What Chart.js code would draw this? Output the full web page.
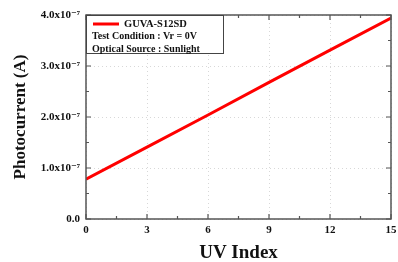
<!DOCTYPE html>
<html>
<head>
<meta charset="utf-8">
<script src="https://cdn.jsdelivr.net/npm/chart.js@4"></script>
<style>
  body { margin: 0; background: #fff; }
  #wrap { width: 398px; height: 262px; }
</style>
</head>
<body>
<div id="wrap"><canvas id="chartUV"></canvas></div>
<script>
const uvIndex = [0, 3, 6, 9, 12, 15];
const photocurrent = [0.78e-7, 1.41e-7, 2.04e-7, 2.68e-7, 3.31e-7, 3.94e-7];
const yTickLabels = ['0.0', '1.0x10\u207B\u2077', '2.0x10\u207B\u2077', '3.0x10\u207B\u2077', '4.0x10\u207B\u2077'];
const legendLines = ['Test Condition : Vr = 0V', 'Optical Source : Sunlight'];

const serif = '"Liberation Serif", "DejaVu Serif", serif';

// ticks pointing into the plot, on all four sides, plus the legend box
const framePlugin = {
    id: 'frame',
    afterDatasetsDraw(chart) {
        const ctx = chart.ctx;
        const a = chart.chartArea;
        const xs = chart.scales.x;
        const ys = chart.scales.y;
        ctx.save();
        ctx.strokeStyle = '#555';
        ctx.lineWidth = 1.5;
        ctx.strokeRect(a.left, a.top, a.right - a.left, a.bottom - a.top);
        ctx.lineWidth = 1.2;
        for (let v = 0; v <= 15; v += 1.5) {
            const x = xs.getPixelForValue(v);
            const len = (v % 3 === 0) ? 5 : 3;
            ctx.beginPath();
            ctx.moveTo(x, a.bottom); ctx.lineTo(x, a.bottom - len);
            ctx.moveTo(x, a.top); ctx.lineTo(x, a.top + len);
            ctx.stroke();
        }
        for (let k = 0; k <= 8; k++) {
            const y = ys.getPixelForValue(k * 0.5e-7);
            const len = (k % 2 === 0) ? 5 : 3;
            ctx.beginPath();
            ctx.moveTo(a.left, y); ctx.lineTo(a.left + len, y);
            ctx.moveTo(a.right, y); ctx.lineTo(a.right - len, y);
            ctx.stroke();
        }

        // legend
        const bx = a.left, by = a.top, bw = 137, bh = 38;
        ctx.fillStyle = '#fff';
        ctx.fillRect(bx, by, bw, bh);
        ctx.strokeStyle = '#444';
        ctx.lineWidth = 1;
        ctx.strokeRect(bx + 0.5, by + 0.5, bw, bh);
        const ds = chart.data.datasets[0];
        ctx.strokeStyle = ds.borderColor;
        ctx.lineWidth = 3;
        ctx.beginPath();
        ctx.moveTo(bx + 7, by + 9); ctx.lineTo(bx + 33, by + 9);
        ctx.stroke();
        ctx.fillStyle = '#111';
        ctx.textBaseline = 'middle';
        ctx.font = 'bold 10.5px ' + serif;
        ctx.fillText(ds.label, bx + 38, by + 9);
        ctx.font = 'bold 10px ' + serif;
        legendLines.forEach((t, i) => ctx.fillText(t, bx + 6, by + 21.5 + i * 12.5));
        ctx.restore();
    }
};

const ctx = document.getElementById('chartUV').getContext('2d');
const chart = new Chart(ctx, {
    type: 'line',
    data: {
        labels: uvIndex,
        datasets: [
            {
                label: 'GUVA-S12SD',
                data: uvIndex.map((x, i) => ({ x: x, y: photocurrent[i] })),
                borderColor: '#ff0000',
                backgroundColor: 'transparent',
                borderWidth: 3,
                pointRadius: 0,
                tension: 0
            }
        ]
    },
    options: {
        responsive: true,
        maintainAspectRatio: false,
        animation: false,
        layout: { padding: { left: 6, top: 15, right: 7, bottom: 0 } },
        plugins: {
            legend: { display: false },
            tooltip: { enabled: false }
        },
        scales: {
            x: {
                type: 'linear',
                min: 0,
                max: 15,
                afterFit: s => { s.height = 43; s.paddingRight = 0; s.paddingLeft = 0; },
                ticks: {
                    stepSize: 3,
                    color: '#111',
                    padding: 5,
                    font: { family: serif, weight: 'bold', size: 11 }
                },
                grid: {
                    color: '#d8d8d8',
                    drawTicks: false
                },
                border: { display: false, dash: [1, 3] },
                title: {
                    display: true,
                    text: 'UV Index',
                    color: '#111',
                    padding: { top: 0, bottom: -2 },
                    font: { family: serif, weight: 'bold', size: 19 }
                }
            },
            y: {
                min: 0,
                max: 4e-7,
                afterFit: s => { s.width = 80; },
                ticks: {
                    stepSize: 1e-7,
                    color: '#111',
                    padding: 6,
                    font: { family: serif, weight: 'bold', size: 11 },
                    callback: (v, i) => yTickLabels[i]
                },
                grid: {
                    color: '#d8d8d8',
                    drawTicks: false
                },
                border: { display: false, dash: [1, 3] },
                title: {
                    display: true,
                    text: 'Photocurrent (A)',
                    color: '#111',
                    padding: { bottom: 2 },
                    font: { family: serif, weight: 'bold', size: 17 }
                }
            }
        }
    },
    plugins: [framePlugin]
});
</script>
</body>
</html>
